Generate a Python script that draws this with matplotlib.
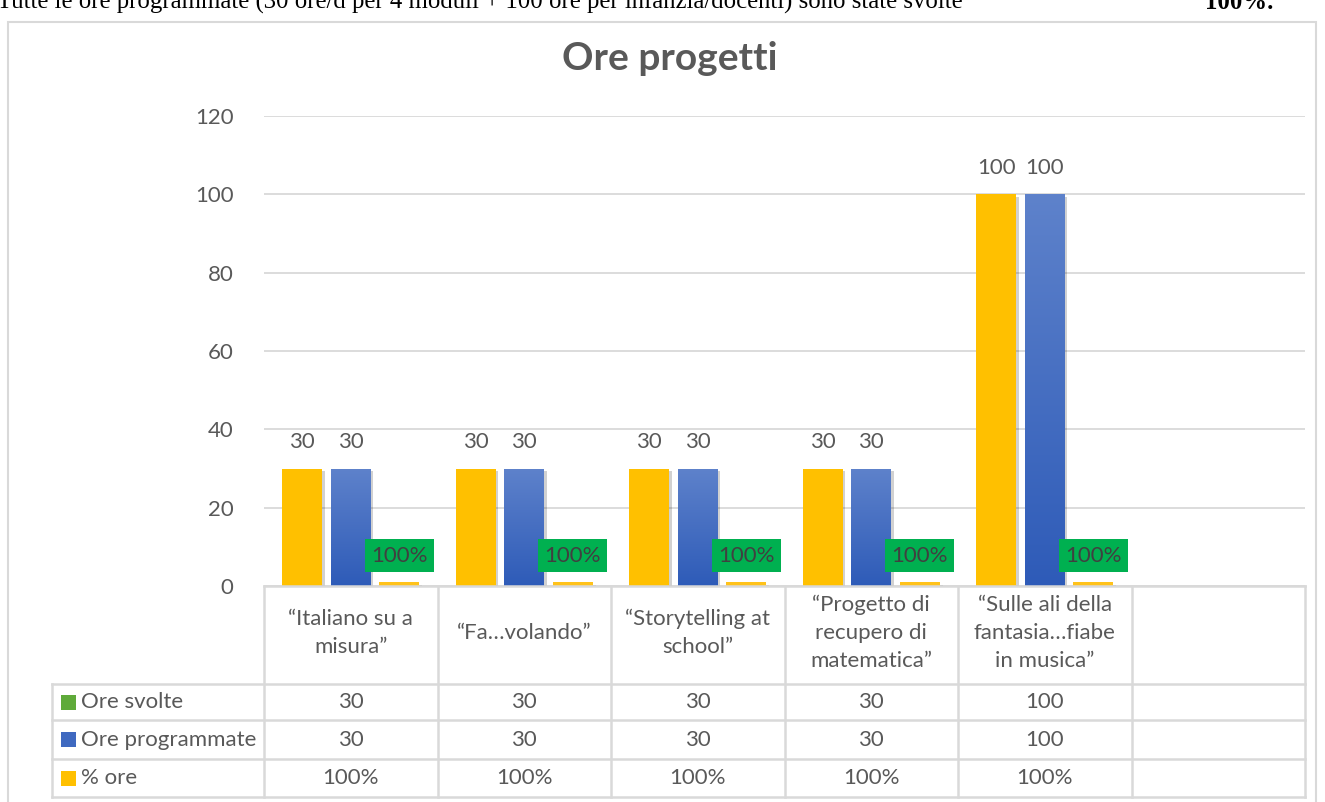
import matplotlib
matplotlib.use("Agg")
import matplotlib.pyplot as plt
import matplotlib.patheffects as pe
from matplotlib.lines import Line2D
from matplotlib.patches import Rectangle
import numpy as np

# ------------------------
# dati
# ------------------------
categories = ["“Italiano su a\nmisura”", "“Fa…volando”", "“Storytelling at\nschool”",
              "“Progetto di\nrecupero di\nmatematica”", "“Sulle ali della\nfantasia…fiabe\nin musica”", ""]
ore_svolte = [30, 30, 30, 30, 100]
ore_programmate = [30, 30, 30, 30, 100]
perc_ore = [1.0, 1.0, 1.0, 1.0, 1.0]
row_labels = ["Ore svolte", "Ore programmate", "% ore"]
yticks = [0, 20, 40, 60, 80, 100, 120]

W, H = 1325, 802
def fx(x): return x / W
def fy(y): return 1 - y / H

plt.rcParams['font.family'] = ['Lato', 'DejaVu Sans']
txt = "#595959"
grid = "#D9D9D9"
yellow = "#FFC000"
green_lab = "#00B050"
fs = 16

fig = plt.figure(figsize=(W / 100, H / 100), dpi=100)

# testo tagliato sopra il grafico
fig.text(fx(-3), fy(9), "Tutte le ore programmate (30 ore/d per 4 moduli + 100 ore per infanzia/docenti) sono state svolte",
         fontsize=17.8, family="Liberation Serif", va="baseline", ha="left", color="black")
fig.text(fx(1205), fy(9), "100%.", fontsize=17.8, family="Liberation Serif", fontweight="bold",
         va="baseline", ha="left", color="black")

# cornice del grafico
fig.add_artist(Rectangle((fx(8), fy(810)), fx(1316 - 8), (810 - 22) / H, transform=fig.transFigure,
                         fill=False, edgecolor=grid, lw=1.5))

fig.text(fx(670), fy(58), "Ore progetti", fontsize=28, fontweight="bold", color=txt, ha="center", va="center")

ax = fig.add_axes([fx(264), fy(586), fx(1305 - 264), (586 - 116) / H])
ax.set_xlim(-0.5, len(categories) - 0.5)
ax.set_ylim(0, 120)
for s in ax.spines.values():
    s.set_visible(False)
ax.set_xticks([])
ax.set_yticks(yticks)
ax.tick_params(axis="y", length=0, pad=22, labelsize=fs, labelcolor=txt)
ax.grid(axis="y", color=grid, lw=1.3)
ax.set_axisbelow(True)

x = np.arange(len(ore_svolte))
bw = 0.23
off = 0.28
shadow = [pe.SimplePatchShadow(offset=(2, -2), shadow_rgbFace="#000000", alpha=0.18), pe.Normal()]

b1 = ax.bar(x - off, ore_svolte, bw, color=yellow, zorder=3)
b2 = ax.bar(x, ore_programmate, bw, color="#4472C4", zorder=3)
b3 = ax.bar(x + off, perc_ore, bw, color="#FFC21A", zorder=3)
for bars in (b1, b2, b3):
    for b in bars:
        b.set_path_effects(shadow)

# gradiente blu
grad = np.linspace(0, 1, 256).reshape(-1, 1)
cmap = matplotlib.colors.LinearSegmentedColormap.from_list("bl", ["#2E5BB8", "#5E82CB"])
for b in b2:
    im = ax.imshow(grad, extent=(b.get_x(), b.get_x() + b.get_width(), 0, b.get_height()),
                   origin="lower", cmap=cmap, aspect="auto", zorder=3.5)
    im.set_clip_path(b)
ax.set_xlim(-0.5, len(categories) - 0.5)
ax.set_ylim(0, 120)

for bars, vals in ((b1, ore_svolte), (b2, ore_programmate)):
    for b, v in zip(bars, vals):
        ax.annotate(f"{v}", (b.get_x() + b.get_width() / 2, v), xytext=(0, 19), textcoords="offset points",
                    ha="center", va="center", fontsize=fs, color=txt)
for b, v in zip(b3, perc_ore):
    ax.annotate(f"{v:.0%}", (b.get_x() + b.get_width() / 2, v), xytext=(0, 19), textcoords="offset points",
                ha="center", va="center", fontsize=fs, color="#404040", zorder=5,
                bbox=dict(boxstyle="square,pad=0.28", fc=green_lab, ec="none"))

# ------------------------
# tabella dati
# ------------------------
col_x = [264 + i * (1305 - 264) / len(categories) for i in range(len(categories) + 1)]
row_y = [586, 684, 720, 759, 797]
lc = "#D9D9D9"
def hline(y, x0, x1):
    fig.add_artist(Line2D([fx(x0), fx(x1)], [fy(y), fy(y)], color=lc, lw=1.8, transform=fig.transFigure))
def vline(x, y0, y1):
    fig.add_artist(Line2D([fx(x), fx(x)], [fy(y0), fy(y1)], color=lc, lw=1.8, transform=fig.transFigure))

hline(row_y[0], col_x[0], col_x[-1])
for y in row_y[1:]:
    hline(y, 52, col_x[-1])
for cx in col_x:
    vline(cx, row_y[0], row_y[-1])
vline(52, row_y[1], row_y[-1])

for i, c in enumerate(categories):
    fig.text(fx((col_x[i] + col_x[i + 1]) / 2), fy(633), c, ha="center", va="center",
             fontsize=fs, color=txt, linespacing=1.5)

table_vals = [[str(v) for v in ore_svolte], [str(v) for v in ore_programmate], [f"{v:.0%}" for v in perc_ore]]
key_cols = ["#5FAA3A", "#3F69C0", "#FFC000"]
for r, lab in enumerate(row_labels):
    yc = (row_y[r + 1] + row_y[r + 2]) / 2
    fig.add_artist(Rectangle((fx(61), fy(yc + 7.5)), fx(15), 15 / H, transform=fig.transFigure,
                             color=key_cols[r], ec="none"))
    fig.text(fx(81), fy(yc), lab, ha="left", va="center", fontsize=fs, color=txt)
    for i, v in enumerate(table_vals[r]):
        fig.text(fx((col_x[i] + col_x[i + 1]) / 2), fy(yc), v, ha="center", va="center",
                 fontsize=fs, color=txt)

fig.savefig("out.png", dpi=100)
